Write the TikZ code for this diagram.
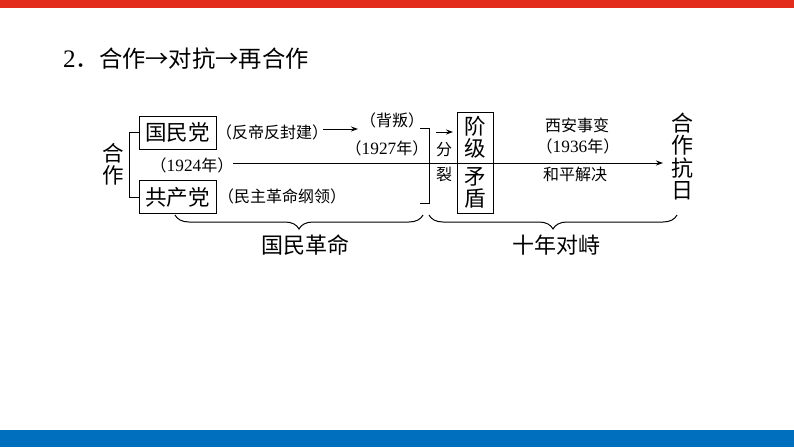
\documentclass[tikz,border=0pt]{standalone}
\usepackage{fontspec}
\setmainfont{Noto Sans CJK SC}
\newfontfamily\numfont[Scale=1.08]{Liberation Serif}
\usetikzlibrary{arrows.meta}
\usetikzlibrary{positioning}
\usetikzlibrary{decorations.pathreplacing}
\definecolor{barred}{HTML}{E42C1D}
\definecolor{barblue}{HTML}{006FBE}
\tikzset{
	partybox/.style={draw,line width=1pt,minimum width=77pt,minimum height=33pt,inner sep=0pt,font=\fontsize{21.5}{22}\selectfont},
	biglab/.style={inner sep=0pt,align=center,font=\fontsize{21.5}{22}\selectfont},
	smalllab/.style={inner sep=0pt,align=center,font=\fontsize{16}{16}\selectfont},
	link/.style={line width=1pt},
	pointer/.style={line width=1pt,-{Stealth[length=7pt,width=5pt]}},
	bigbrace/.style={line width=1pt,decorate,decoration={brace,mirror,amplitude=14pt,aspect=0.5}}
}
\begin{document}
\begin{tikzpicture}[x=1pt,y=-1pt]
	\useasboundingbox (0,0) rectangle (794,447);
	\fill[barred] (0,0) rectangle (794,8);
	\fill[barblue] (0,430) rectangle (794,447);
	\node(title) at (63,59) [anchor=west,inner sep=0pt,font=\fontsize{23.3}{25}\selectfont] {{\numfont 2}．合作→对抗→再合作};
	% left part
	\node(gmd) at (177.5,132.5) [partybox] {国民党};
	\node(gcd) at (177.5,197) [partybox] {共产党};
	\node(hz) at (113,164) [biglab] {合\\作};
	\node(fandi) at (272,132) [smalllab] {（反帝反封建）};
	\node(minzhu) at (282,196) [smalllab] {（民主革命纲领）};
	\node(y1924) at (192,165) [smalllab] {（{\numfont 1924}年）};
	\node(beipan) at (392,120) [smalllab] {（背叛）};
	\node(y1927) at (387,148) [smalllab] {（{\numfont 1927}年）};
	\draw[link] (gmd.west) -- (129,132.5) |- (gcd.west);
	\draw[pointer] (323,129) -- (358,129);
	\coordinate(brtop) at (420,128);
	\coordinate(brbot) at (420,203);
	\draw[link] (brtop) -- (429,128) -- (429,203) -- (brbot);
	% right part
	\node(fenlie) at (444,162.5) [smalllab] {分\\[9pt]裂};
	\node(jieji) at (475,162.5) [draw,line width=1pt,minimum width=36pt,minimum height=101pt,inner sep=0pt,align=center,font=\fontsize{21.5}{22}\selectfont] {阶\\级\\[6pt]矛\\盾};
	\coordinate(arrfrom) at (436,132);
	\coordinate(arrto) at (453,132);
	\draw[pointer] (arrfrom) -- (arrto);
	\node(xian) at (577,125) [smalllab] {西安事变};
	\node(y1936) at (578,146) [smalllab] {（{\numfont 1936}年）};
	\node(heping) at (575,174) [smalllab] {和平解决};
	\node(kangri) at (682,156.5) [inner sep=0pt,align=center,font=\fontsize{22}{22.5}\selectfont] {合\\作\\抗\\日};
	\coordinate(linefrom) at (233,163);
	\coordinate(lineto) at (663,163);
	\draw[pointer] (linefrom) -- (lineto);
	% braces
	\coordinate(bla) at (175,215);
	\coordinate(blb) at (423,215);
	\coordinate(bra) at (429,215);
	\coordinate(brb) at (677,215);
	\draw[bigbrace] (bla) -- (blb);
	\draw[bigbrace] (bra) -- (brb);
	\node(gmgm) at (305,245) [biglab,font=\fontsize{22}{22}\selectfont] {国民革命};
	\node(snds) at (556,245) [biglab,font=\fontsize{22}{22}\selectfont] {十年对峙};
\end{tikzpicture}
\end{document}
